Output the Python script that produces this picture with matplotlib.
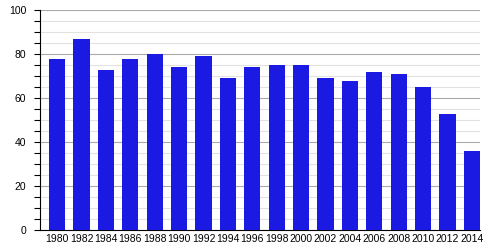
import numpy as np
import matplotlib
matplotlib.use('Agg')
import matplotlib.pyplot as plt
from matplotlib.ticker import MultipleLocator

years = ['1980', '1982', '1984', '1986', '1988', '1990', '1992', '1994', '1996',
         '1998', '2000', '2002', '2004', '2006', '2008', '2010', '2012', '2014']
values = [78, 87, 73, 78, 80, 74, 79, 69, 74, 75, 75, 69, 68, 72, 71, 65, 53, 36]

plt.rcParams['font.family'] = ['Liberation Sans', 'DejaVu Sans']

fig = plt.figure(figsize=(4.89, 2.5), dpi=100)
ax = fig.add_axes([40/489, 1-230/250, 440/489, (230-10.3)/250])

x = np.arange(len(years))
ax.bar(x, values, width=0.66, color='#1a1ae3', zorder=3)

ax.set_xlim(-0.70, len(years) - 1 + 0.33)
ax.set_ylim(0, 100)
ax.set_xticks(x)
ax.set_xticklabels(years, fontsize=7.5)
ax.yaxis.set_major_locator(MultipleLocator(20))
ax.yaxis.set_minor_locator(MultipleLocator(5))
ax.tick_params(axis='y', which='both', length=4, width=0.8, labelsize=7.5, pad=6)
ax.tick_params(axis='x', length=0, pad=3)
ax.grid(axis='y', which='major', color='#aaaaaa', linewidth=0.8, zorder=0)
ax.grid(axis='y', which='minor', color='#e2e2e2', linewidth=0.8, zorder=0)
for s in ['top', 'right']:
    ax.spines[s].set_visible(False)
ax.spines['left'].set_linewidth(0.8)
ax.spines['bottom'].set_linewidth(0.8)

fig.savefig('out.png', dpi=100)
